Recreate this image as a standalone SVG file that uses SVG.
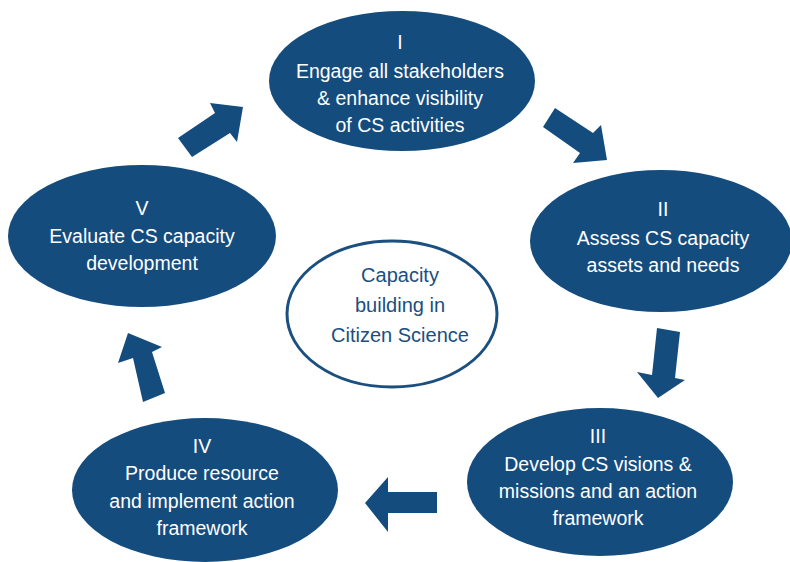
<svg xmlns="http://www.w3.org/2000/svg" width="790" height="562" viewBox="0 0 790 562">
<style>
.node{fill:#154c7e}
.t{font-family:"Liberation Sans",Arial,sans-serif;font-size:19.5px;fill:#ffffff;text-anchor:middle}
.c{font-family:"Liberation Sans",Arial,sans-serif;font-size:20px;fill:#1a4f80;text-anchor:middle}
.arrow{fill:#154c7e}
</style>
<rect width="790" height="562" fill="#ffffff"/>
<g id="node-I">
<ellipse class="node" cx="402" cy="81" rx="133" ry="70"/>
<text class="t" x="400" y="49">I</text>
<text class="t" x="400" y="78">Engage all stakeholders</text>
<text class="t" x="400" y="105">&amp; enhance visibility</text>
<text class="t" x="400" y="132">of CS activities</text>
</g>
<g id="node-II">
<ellipse class="node" cx="661" cy="241" rx="131" ry="71"/>
<text class="t" x="663" y="216">II</text>
<text class="t" x="663" y="245">Assess CS capacity</text>
<text class="t" x="663" y="272">assets and needs</text>
</g>
<g id="node-III">
<ellipse class="node" cx="600" cy="482" rx="133" ry="74"/>
<text class="t" x="598" y="443">III</text>
<text class="t" x="598" y="471">Develop CS visions &amp;</text>
<text class="t" x="598" y="498">missions and an action</text>
<text class="t" x="598" y="525">framework</text>
</g>
<g id="node-IV">
<ellipse class="node" cx="205" cy="490" rx="133" ry="72"/>
<text class="t" x="202" y="453">IV</text>
<text class="t" x="202" y="480">Produce resource</text>
<text class="t" x="202" y="508">and implement action</text>
<text class="t" x="202" y="535">framework</text>
</g>
<g id="node-V">
<ellipse class="node" cx="142" cy="236" rx="134" ry="71"/>
<text class="t" x="142" y="215">V</text>
<text class="t" x="142" y="243">Evaluate CS capacity</text>
<text class="t" x="142" y="270">development</text>
</g>
<g id="node-center">
<ellipse cx="392" cy="314" rx="105" ry="73" fill="#ffffff" stroke="#1a4f80" stroke-width="3"/>
<text class="c" x="400" y="282">Capacity</text>
<text class="c" x="400" y="312">building in</text>
<text class="c" x="400" y="342">Citizen Science</text>
</g>
<g id="connectors">
<polygon class="arrow" points="178,138 215,113 210,103 243,107 237,142 230,133 192,157"/>
<polygon class="arrow" points="555,108 593,133 601,125 607,160 573,163 580,153 543,127"/>
<polygon class="arrow" points="657,328 680,332 675,378 685,380 658,398 637,372 652,375"/>
<polygon class="arrow" points="437,492 437,513 388,513 388,532 365,503 388,477 388,492"/>
<polygon class="arrow" points="128,333 162,347 152,352 165,393 143,402 133,358 118,363"/>
</g>
</svg>
